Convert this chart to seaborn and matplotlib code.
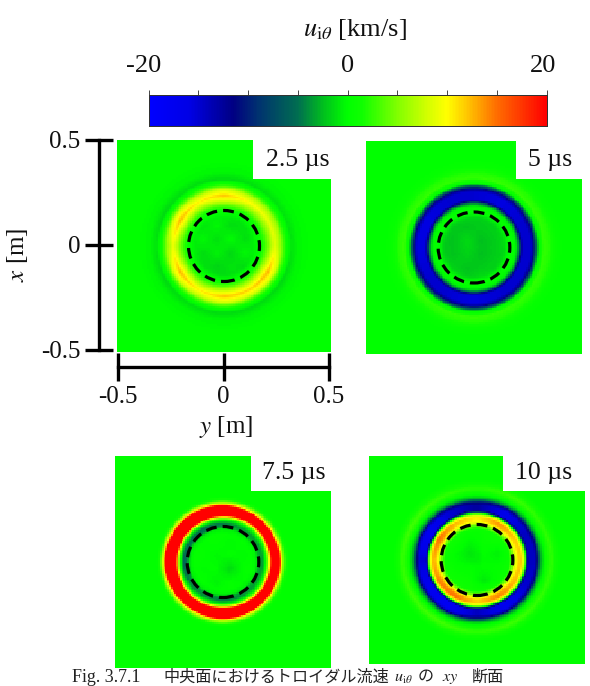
import numpy as np
import matplotlib
matplotlib.use("Agg")
import matplotlib.pyplot as plt
from matplotlib.colors import LinearSegmentedColormap
from matplotlib.patches import Circle, Rectangle
from matplotlib.transforms import ScaledTranslation
import seaborn as sns

sns.set_theme(style="white")
plt.rcParams["font.family"] = ["Liberation Serif", "Noto Sans CJK JP"]
plt.rcParams["mathtext.fontset"] = "stix"
plt.rcParams["axes.unicode_minus"] = False

W, H = 590, 686

# Colour scale of the toroidal ion velocity [km/s]
scale_values = [-20, -16, -11.5, -9, -5, -2.5, 0, 1.5, 5, 8, 10, 12, 15, 20]
scale_colors = ["#0000ff", "#0000e6", "#000082", "#003270", "#006e50", "#00be1e", "#00ff00",
                "#10ff00", "#80ff00", "#d2ff00", "#ffff00", "#ffc800", "#ff6e00", "#ff0000"]
scale_ticks = [-20, -15, -10, -5, 0, 5, 10, 15, 20]
scale_labels = ["-20", "", "", "", "0", "", "", "", "20"]

# Radial velocity profiles, radius in pixels of the 1 m wide section
radius_a = [0, 30, 35, 40, 46, 51, 57, 60, 64, 68, 75, 85, 200]
speed_a = [0, -0.3, 0.3, 2.5, 7, 10.5, 7, 3.5, 0.5, -1.2, -0.3, 0, 0]
radius_b = [0, 30, 37, 42, 45, 47, 49, 56, 59, 62, 65, 70, 75, 82, 90, 200]
speed_b = [-0.5, -1, 0.5, -0.5, -5, -12, -15, -15, -12.5, -6, 0, 2.5, 2, 0.5, 0, 0]
radius_c = [0, 28, 33, 36, 39, 42, 44.5, 46.5, 48.5, 56, 58, 60, 63, 66, 200]
speed_c = [0, 0.3, -0.5, -3.5, -4, -1, 5, 13, 24, 24, 12, 6, 1.5, 0, 0]
radius_d = [0, 32, 36, 38, 41, 44, 46, 48, 49.5, 51.5, 57, 60, 63, 66, 70, 74, 78, 84, 200]
speed_d = [-0.3, 1, 5, 9, 12, 12.5, 9.5, 3, -8, -15, -15, -12, -4, -1, 1.5, 2.5, 1.5, 0, 0]

# Strength of the ring every 30 degrees, counter-clockwise from +y
gain_a = [0.82, 0.85, 0.95, 1.15, 1.0, 1.2, 0.85, 1.2, 1.0, 1.15, 1.1, 1.2]
gain_b = [1.0, 1.0, 1.05, 1.0, 1.0, 1.05, 1.05, 1.0, 1.0, 1.05, 1.0, 1.0]
gain_c = [0.9, 0.85, 0.9, 1.1, 1.3, 1.25, 1.4, 1.1, 1.0, 1.15, 1.0, 0.85]
gain_d = [0.95, 0.95, 1.1, 0.85, 1.0, 1.2, 1.0, 1.15, 1.2, 0.95, 1.15, 1.0]

# Velocity mottling inside the dashed circle, top row first
core_a = [[0, 0, -0.5, 0, -1, 0],
          [0, -1, 0, -1.5, -1, 0],
          [-1, 0, -1.5, 0, -1.5, 0],
          [0, -1.5, -0.5, -2, 0, -1],
          [0, -1, -2, -1, -1.5, 0],
          [0, 0, -1, -1.5, 0, 0]]
core_b = [[0, 0, -0.5, -1, 0, 0],
          [0, -1.5, -2, -1.5, -1, 0],
          [-1, -2, -1, -2.5, -1.5, 0],
          [-1, -2, -1.5, -2.5, -1.5, -0.5],
          [0, -1, -2, -1.5, -1, 0],
          [0, 0, -1, 0, 0, 0]]
core_c = [[0, 0, 0, 0, 0, 0],
          [0, -0.5, 0, -0.5, 0, 0],
          [0, 0, -0.5, 0, -0.5, 0],
          [0, -0.5, 0, -2, 0, 0],
          [0, 0, -1, 0, -0.5, 0],
          [0, 0, 0, -0.5, 0, 0]]
core_d = [[0, 0, 0, -0.5, 0, 0],
          [0, 0, -1, 0, 0, 0],
          [0, -1, -1.5, 0, -1.5, 0],
          [0, -0.5, 0, 0, -0.5, 0],
          [0, 0, 0, -2, -1, 0],
          [0, 0, 0, 0, 0, 0]]

time_labels = ["2.5 µs", "5 µs", "7.5 µs", "10 µs"]
axis_ticks = [-0.5, 0, 0.5]
axis_tick_labels = ["-0.5", "0", "0.5"]

# Panel boxes in pixels: left, top, right, bottom, then the corner of the label box
boxes = [(117, 140, 331, 352, 253, 179), (366, 141, 582, 354, 516, 179),
         (115, 456, 331, 668, 251, 491), (369, 456, 585, 664, 503, 491)]
label_centres = [(298, 160), (550, 160), (294, 473), (544, 473)]
profiles = [(radius_a, speed_a, gain_a, core_a), (radius_b, speed_b, gain_b, core_b),
            (radius_c, speed_c, gain_c, core_c), (radius_d, speed_d, gain_d, core_d)]

cmap = LinearSegmentedColormap.from_list(
    "ion_speed", [((v + 20) / 40, c) for v, c in zip(scale_values, scale_colors)])


def px_axes(fig, left, top, right, bottom, **kw):
    return fig.add_axes([left / W, 1 - bottom / H, (right - left) / W, (bottom - top) / H], **kw)


def build_field(radii, speeds, gains, core, n=120):
    axis = np.linspace(-107, 107, n)
    yy, xx = np.meshgrid(axis[::-1], axis, indexing="ij")
    r = np.hypot(xx, yy)
    field = np.interp(r, radii, speeds)
    theta = np.degrees(np.arctan2(yy, xx)) % 360
    field = field * np.interp(theta, np.arange(0, 390, 30), gains + gains[:1])
    # Lay the mottling table over the inner disc, fading out towards the ring
    grid = np.array(core, dtype=float)
    m = grid.shape[0] - 1
    col = np.clip((xx + 35) / 70 * m, 0, m - 1e-6)
    row = np.clip((35 - yy) / 70 * m, 0, m - 1e-6)
    i, j = row.astype(int), col.astype(int)
    fi, fj = row - i, col - j
    mott = (grid[i, j] * (1 - fi) * (1 - fj) + grid[i, j + 1] * (1 - fi) * fj
            + grid[i + 1, j] * fi * (1 - fj) + grid[i + 1, j + 1] * fi * fj)
    return field + 0.7 * mott * np.clip((38 - r) / 10, 0, 1)


fig = plt.figure(figsize=(W / 100, H / 100), dpi=100, facecolor="white")
cbar_ax = px_axes(fig, 148.7, 95, 546.5, 126)

for idx, (box, prof, text, centre) in enumerate(zip(boxes, profiles, time_labels, label_centres)):
    left, top, right, bottom, cx, cy = box
    ax = px_axes(fig, left, top, right, bottom)
    sns.heatmap(build_field(*prof), ax=ax, cmap=cmap, vmin=-20, vmax=20,
                xticklabels=False, yticklabels=False,
                cbar=idx == 0, cbar_ax=cbar_ax if idx == 0 else None,
                cbar_kws={"orientation": "horizontal"} if idx == 0 else None)
    fx0 = (cx - left) / (right - left)
    fy0 = (bottom - cy) / (bottom - top)
    ax.add_patch(Rectangle((fx0, fy0), 1 - fx0, 1 - fy0, transform=ax.transAxes,
                           facecolor="white", edgecolor="none", zorder=5))
    fig.text(centre[0] / W, 1 - centre[1] / H, text, ha="center", va="center", fontsize=18.5,
             color="#111111", zorder=10)
    # Dashed circle marking the inner region of the section
    ring_ax = px_axes(fig, left, top, right, bottom, facecolor="none")
    ring_ax.set_xlim(-107, 107)
    ring_ax.set_ylim(-(bottom - top) / 2, (bottom - top) / 2)
    ring_ax.axis("off")
    ring_ax.add_patch(Circle((0, 0), 35.5, fill=False, edgecolor="black", lw=2.3,
                             linestyle=(0, (3.4, 1.9))))

# Colour bar styling
cbar_ax.xaxis.set_ticks_position("top")
cbar_ax.set_xticks(scale_ticks)
cbar_ax.set_xticklabels(scale_labels, fontsize=19, color="#111111")
cbar_ax.tick_params(axis="x", length=3.6, width=0.7, color="#444444", pad=9, top=True, bottom=False)
for spine in cbar_ax.spines.values():
    spine.set_visible(True)
    spine.set_linewidth(0.7)
    spine.set_edgecolor("#333333")
fig.text(355 / W, 1 - 29 / H, r"$u_{\mathrm{i}\theta}$ [km/s]", ha="center", va="center",
         fontsize=19, color="#111111")
cbar_labels = cbar_ax.get_xticklabels()
for lab, dx in ((cbar_labels[0], -5), (cbar_labels[-1], -3)):
    lab.set_transform(lab.get_transform() + ScaledTranslation(dx / 100, 0, fig.dpi_scale_trans))

# Position axes of the first section, offset from the field
frame = px_axes(fig, 118, 139.5, 329, 350, facecolor="none")
frame.set_xlim(-0.5, 0.5)
frame.set_ylim(-0.5, 0.5)
frame.set_xticks(axis_ticks, axis_tick_labels)
frame.set_yticks(axis_ticks, axis_tick_labels)
for side in ("top", "right"):
    frame.spines[side].set_visible(False)
frame.spines["left"].set_position(("outward", 13.7))
frame.spines["bottom"].set_position(("outward", 12.2))
for side in ("left", "bottom"):
    frame.spines[side].set_linewidth(2.4)
    frame.spines[side].set_edgecolor("black")
frame.tick_params(axis="both", direction="inout", length=20, width=2.4, color="black",
                  left=True, bottom=True, labelsize=18, labelcolor="#111111")
frame.tick_params(axis="x", pad=4)
frame.tick_params(axis="y", pad=3.5)
frame.set_xlabel(r"$y$ [m]", fontsize=18, color="#111111")
frame.set_ylabel(r"$x$ [m]", fontsize=18, color="#111111")
frame.xaxis.set_label_coords(226 / W, 1 - 427 / H, transform=fig.transFigure)
frame.yaxis.set_label_coords(17 / W, 1 - 255 / H, transform=fig.transFigure)
frame.xaxis.label.set_va("center")
frame.yaxis.label.set_va("center")

# Caption along the lower edge, set piece by piece for the mixed scripts
caption_base = 1 - 681.5 / H
caption_parts = [(72, "Fig. 3.7.1", 13), (163, "中央面におけるトロイダル流速", 11.6),
                 (394, r"$u_{\mathrm{i}\theta}$", 11.6), (418, "の", 11.6),
                 (442, r"$xy$", 11.6), (472, "断面", 11.6)]
for x_px, part, size in caption_parts:
    fig.text(x_px / W, caption_base, part, ha="left", va="baseline", fontsize=size, color="#222222")

fig.savefig("out.png", dpi=100)
